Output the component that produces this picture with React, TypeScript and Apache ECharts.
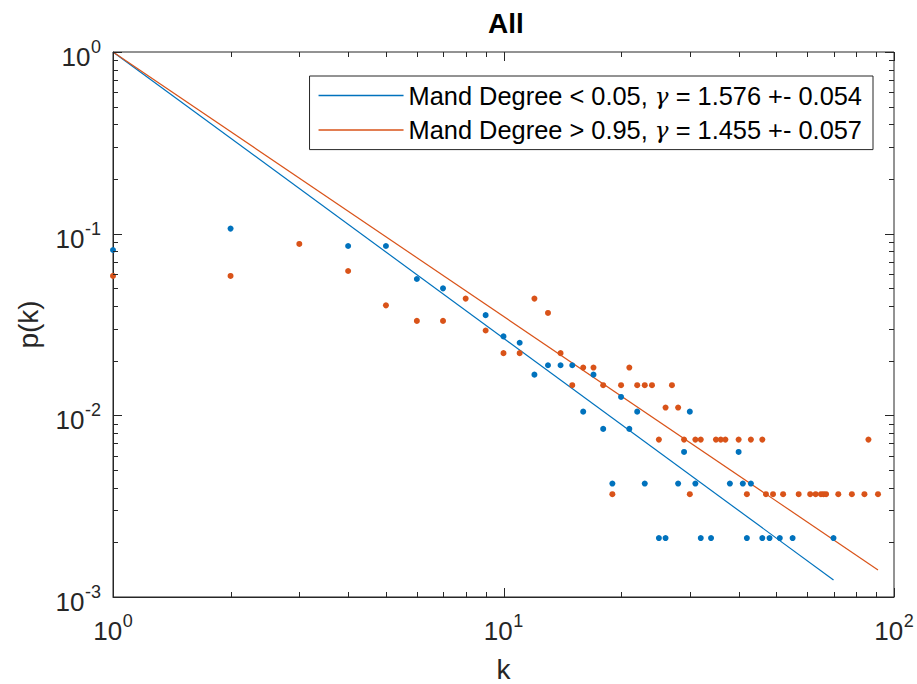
import React, { useEffect, useRef } from "react";
import * as echarts from "echarts";

// ---- data ----
const blueK = [1, 2, 4, 5, 6, 7, 9, 10, 11, 12, 13, 14, 15, 16, 17, 18, 19, 20, 21, 22, 23, 25, 26, 28, 29, 30, 31, 32, 34, 38, 40, 41, 42, 43, 46, 48, 51, 55, 70];
const blueP = [0.0813, 0.1066, 0.0855, 0.0855, 0.0563, 0.05, 0.0356, 0.0272, 0.0251, 0.01675, 0.01886, 0.01886, 0.01886, 0.01048, 0.01675, 0.00842, 0.00421, 0.01263, 0.00842, 0.01048, 0.00421, 0.00211, 0.00211, 0.00421, 0.00629, 0.01048, 0.00421, 0.00211, 0.00211, 0.00421, 0.00629, 0.00421, 0.00211, 0.00421, 0.00211, 0.00211, 0.00211, 0.00211, 0.00211];

const orangeK = [1, 2, 3, 4, 5, 6, 7, 8, 9, 10, 11, 12, 13, 14, 15, 16, 17, 18, 19, 20, 21, 22, 23, 24, 25, 26, 27, 28, 29, 30, 31, 32, 35, 36, 37, 40, 42, 43, 46, 47, 49, 52, 57, 61, 63, 65, 66, 67, 72, 78, 84, 86, 91];
const orangeP = [0.0585, 0.0585, 0.0878, 0.0623, 0.0403, 0.0331, 0.0331, 0.0439, 0.0293, 0.022, 0.022, 0.0439, 0.0366, 0.022, 0.01465, 0.01832, 0.01832, 0.01465, 0.00368, 0.01465, 0.01832, 0.01465, 0.01465, 0.01465, 0.00735, 0.01104, 0.01465, 0.01104, 0.00735, 0.00368, 0.00735, 0.00735, 0.00735, 0.00735, 0.00735, 0.00735, 0.00368, 0.00735, 0.00735, 0.00368, 0.00368, 0.00368, 0.00368, 0.00368, 0.00368, 0.00368, 0.00368, 0.00368, 0.00368, 0.00368, 0.00368, 0.00735, 0.00368];

// fitted power laws (end points of the fit lines)
const blueFitK = [1, 70];
const blueFitP = [1, 0.00124];
const orangeFitK = [1, 91];
const orangeFitP = [1, 0.00141];

const blueName = "Mand Degree < 0.05, γ = 1.576 +- 0.054";
const orangeName = "Mand Degree > 0.95, γ = 1.455 +- 0.057";
const titleText = "All";
const xName = "k";
const yName = "p(k)";

// axis tick values
const xMajorTicks = [1, 10, 100];
const xMinorTicks = [2, 3, 4, 5, 6, 7, 8, 9, 20, 30, 40, 50, 60, 70, 80, 90];
const yMajorTicks = [0.001, 0.01, 0.1, 1];
const yMinorTicks = [0.002, 0.003, 0.004, 0.005, 0.006, 0.007, 0.008, 0.009, 0.02, 0.03, 0.04, 0.05, 0.06, 0.07, 0.08, 0.09, 0.2, 0.3, 0.4, 0.5, 0.6, 0.7, 0.8, 0.9];

const BLUE = "#0072BD";
const ORANGE = "#D95319";
const AX = "#262626";
const FONT = "'Liberation Sans', Arial, Helvetica, sans-serif";
const BASE_SIZE = 26;
const SUP_SIZE = 18;

const zip = (a: number[], b: number[]) => a.map((v, i) => [v, b[i]]);

let measureCtx: CanvasRenderingContext2D | null = null;
const measure = (t: string, size: number) => {
  if (!measureCtx) measureCtx = document.createElement("canvas").getContext("2d");
  if (!measureCtx) return t.length * size * 0.55;
  measureCtx.font = `${size}px "Liberation Sans", Arial, sans-serif`;
  return measureCtx.measureText(t).width;
};

const expOf = (v: number) => String(Math.round(Math.log10(v)));

const tickRenderer = (dir: "x" | "y") => (params: any, api: any) => {
  const cs = params.coordSys;
  const major = api.value(2) === 1;
  const len = major ? 9 : 5;
  const p = api.coord([api.value(0), api.value(1)]);
  const style = { stroke: AX, lineWidth: 1 };
  if (dir === "x") {
    const x = Math.round(p[0]) + 0.5;
    const yb = cs.y + cs.height;
    return {
      type: "group",
      children: [
        { type: "line", shape: { x1: x, y1: yb, x2: x, y2: yb - len }, style },
        { type: "line", shape: { x1: x, y1: cs.y, x2: x, y2: cs.y + len }, style },
      ],
    };
  }
  const y = Math.round(p[1]) + 0.5;
  const xr = cs.x + cs.width;
  return {
    type: "group",
    children: [
      { type: "line", shape: { x1: cs.x, y1: y, x2: cs.x + len, y2: y }, style },
      { type: "line", shape: { x1: xr, y1: y, x2: xr - len, y2: y }, style },
    ],
  };
};

const textStyle = (text: string, size: number, align: string) => ({
  text,
  fontSize: size,
  fontFamily: FONT,
  fill: AX,
  align,
  verticalAlign: "middle",
});

// "10" with superscript exponent, drawn at positions given by the axis scale
const labelRenderer = (dir: "x" | "y") => (params: any, api: any) => {
  const cs = params.coordSys;
  const v = dir === "x" ? api.value(0) : api.value(1);
  const p = api.coord([api.value(0), api.value(1)]);
  const e = expOf(v);
  const wBase = measure("10", BASE_SIZE);
  const wSup = measure(e, SUP_SIZE);
  if (dir === "y") {
    const right = cs.x - 12;
    return {
      type: "group",
      children: [
        { type: "text", x: right - wSup - 0.5, y: p[1] + 5, style: textStyle("10", BASE_SIZE, "right") },
        { type: "text", x: right, y: p[1] - 5, style: textStyle(e, SUP_SIZE, "right") },
      ],
    };
  }
  const total = wBase + 0.5 + wSup;
  const left = p[0] - total / 2;
  const base = cs.y + cs.height;
  return {
    type: "group",
    children: [
      { type: "text", x: left, y: base + 34, style: textStyle("10", BASE_SIZE, "left") },
      { type: "text", x: left + wBase + 0.5, y: base + 24, style: textStyle(e, SUP_SIZE, "left") },
    ],
  };
};

export default function App() {
  const ref = useRef<HTMLDivElement>(null);
  useEffect(() => {
    if (!ref.current) return;
    const chart = echarts.init(ref.current, null, { renderer: "svg" });
    const option: any = {
      animation: false,
      backgroundColor: "#fff",
      title: {
        text: titleText,
        left: 483,
        top: 4,
        textStyle: { fontSize: 28, fontWeight: "bold", color: "#000", fontFamily: FONT },
      },
      legend: {
        orient: "vertical",
        right: 44,
        top: 76,
        icon: "rect",
        itemWidth: 85,
        itemHeight: 1.5,
        itemGap: 9.6,
        padding: [7, 11, 7, 9],
        borderColor: AX,
        borderWidth: 1,
        borderRadius: 0,
        backgroundColor: "#fff",
        formatter: (name: string) => name.replace("γ", "{g|γ}"),
        textStyle: {
          fontSize: 25.4,
          lineHeight: 25,
          color: "#000",
          fontFamily: FONT,
          rich: {
            g: { fontSize: 23, lineHeight: 25, fontStyle: "italic", fontFamily: "'DejaVu Serif', serif", color: "#000" },
          },
        },
        data: [blueName, orangeName],
        selectedMode: false,
      },
      grid: {
        left: 113,
        right: 23,
        top: 52,
        bottom: 87,
        containLabel: false,
        outerBoundsMode: "none",
        show: true,
        borderColor: AX,
        borderWidth: 1,
        backgroundColor: "#fff",
      },
      xAxis: {
        type: "log",
        logBase: 10,
        min: 1,
        max: 100,
        name: xName,
        nameLocation: "middle",
        nameGap: 59,
        nameTextStyle: { fontSize: 28, lineHeight: 26, color: AX, fontFamily: FONT },
        axisLine: { show: true, lineStyle: { color: AX } },
        axisTick: { show: false },
        splitLine: { show: false },
        minorTick: { show: false },
        axisLabel: { show: false },
      },
      yAxis: {
        type: "log",
        logBase: 10,
        min: 0.001,
        max: 1,
        name: yName,
        nameLocation: "middle",
        nameRotate: 90,
        nameGap: 71,
        nameTextStyle: { fontSize: 28, color: AX, fontFamily: FONT },
        axisLine: { show: true, lineStyle: { color: AX } },
        axisTick: { show: false },
        splitLine: { show: false },
        minorTick: { show: false },
        axisLabel: { show: false },
      },
      series: [
        {
          name: blueName,
          type: "line",
          data: zip(blueFitK, blueFitP),
          symbol: "none",
          lineStyle: { color: BLUE, width: 1.2 },
          itemStyle: { color: BLUE },
          z: 3,
        },
        {
          name: orangeName,
          type: "line",
          data: zip(orangeFitK, orangeFitP),
          symbol: "none",
          lineStyle: { color: ORANGE, width: 1.2 },
          itemStyle: { color: ORANGE },
          z: 3,
        },
        {
          name: "blue points",
          type: "scatter",
          data: zip(blueK, blueP),
          symbol: "circle",
          symbolSize: 6,
          itemStyle: { color: BLUE, opacity: 1 },
          z: 4,
        },
        {
          name: "orange points",
          type: "scatter",
          data: zip(orangeK, orangeP),
          symbol: "circle",
          symbolSize: 6,
          itemStyle: { color: ORANGE, opacity: 1 },
          z: 4,
        },
        {
          name: "x ticks",
          type: "custom",
          silent: true,
          renderItem: tickRenderer("x"),
          encode: { x: 0, y: 1 },
          data: [
            ...xMajorTicks.map((v) => [v, 0.01, 1]),
            ...xMinorTicks.map((v) => [v, 0.01, 0]),
          ],
          z: 5,
        },
        {
          name: "y ticks",
          type: "custom",
          silent: true,
          renderItem: tickRenderer("y"),
          encode: { x: 0, y: 1 },
          data: [
            ...yMajorTicks.map((v) => [2, v, 1]),
            ...yMinorTicks.map((v) => [2, v, 0]),
          ],
          z: 5,
        },
        {
          name: "x labels",
          type: "custom",
          silent: true,
          clip: false,
          renderItem: labelRenderer("x"),
          encode: { x: 0, y: 1 },
          data: xMajorTicks.map((v) => [v, 0.01]),
          z: 5,
        },
        {
          name: "y labels",
          type: "custom",
          silent: true,
          clip: false,
          renderItem: labelRenderer("y"),
          encode: { x: 0, y: 1 },
          data: yMajorTicks.map((v) => [2, v]),
          z: 5,
        },
      ],
    };
    chart.setOption(option);
    return () => chart.dispose();
  }, []);
  return (
    <div
      ref={ref}
      style={{ position: "fixed", left: 0, top: 0, width: 917, height: 684, background: "#fff" }}
    />
  );
}
